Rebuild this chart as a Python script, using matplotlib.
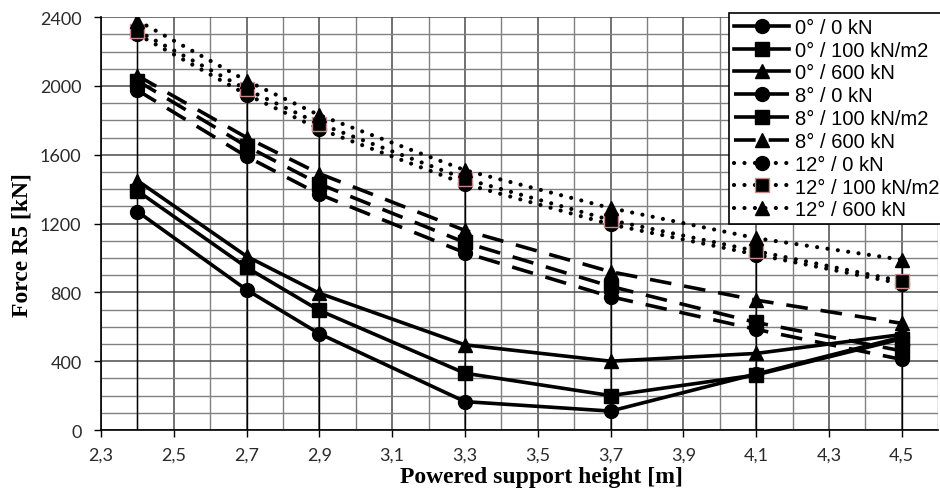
import numpy as np
import matplotlib
matplotlib.use('Agg')
import matplotlib.pyplot as plt
from matplotlib.ticker import MultipleLocator, FuncFormatter

# powered support height [m]
heights = [2.4, 2.7, 2.9, 3.3, 3.7, 4.1, 4.5]

# force R5 [kN]
f0_0 = [1270, 815, 560, 165, 110, 325, 540]
f0_100 = [1390, 945, 695, 330, 200, 320, 530]
f0_600 = [1450, 1010, 795, 495, 400, 445, 555]
f8_0 = [1975, 1590, 1370, 1030, 775, 585, 410]
f8_100 = [2030, 1650, 1430, 1090, 835, 625, 460]
f8_600 = [2060, 1700, 1490, 1160, 920, 755, 620]
f12_0 = [2300, 1950, 1750, 1430, 1195, 1020, 850]
f12_100 = [2320, 1980, 1780, 1460, 1220, 1040, 865]
f12_600 = [2380, 2030, 1830, 1510, 1290, 1115, 990]

labels = ['0° / 0 kN', '0° / 100 kN/m2', '0° / 600 kN',
          '8° / 0 kN', '8° / 100 kN/m2', '8° / 600 kN',
          '12° / 0 kN', '12° / 100 kN/m2', '12° / 600 kN']
series = [f0_0, f0_100, f0_600, f8_0, f8_100, f8_600, f12_0, f12_100, f12_600]
markers = ['o', 's', '^'] * 3
dashes = [None] * 3 + [(6, 3.6)] * 3 + [(0.01, 2.5)] * 3

fig = plt.figure(figsize=(9.4, 4.89), dpi=100)
ax = fig.add_axes([0.1074, 0.1186, 0.8906, 0.8444])

# grid
ax.xaxis.set_major_locator(MultipleLocator(0.2))
ax.xaxis.set_minor_locator(MultipleLocator(0.1))
ax.yaxis.set_major_locator(MultipleLocator(400))
ax.yaxis.set_minor_locator(MultipleLocator(100))
ax.grid(which='major', color='#4a4a4a', lw=1.1, zorder=0)
ax.grid(which='minor', color='#808080', lw=1.0, zorder=0)
ax.set_axisbelow(True)

# drop lines from the highest point of each height
tops = np.max(np.array(series), axis=0)
ax.vlines(heights, 0, tops, color='black', lw=1.0, zorder=1)

for vals, lab, mk, ds in zip(series, labels, markers, dashes):
    kw = dict(color='black', lw=2.6, marker=mk, markersize=10, label=lab,
              markerfacecolor='black', markeredgecolor='black', zorder=3)
    if lab.startswith('12° / 100'):
        kw['markeredgecolor'] = '#c98a8a'
        kw['markeredgewidth'] = 1.0
    line, = ax.plot(heights, vals, **kw)
    if ds is not None:
        line.set_dashes(ds)
        if ds[0] < 1:
            line.set_dash_capstyle('round')
            line.set_linewidth(3.0)

ax.set_xlim(2.3, 4.6)
ax.set_ylim(0, 2400)
ax.xaxis.set_major_formatter(FuncFormatter(lambda v, p: f'{v:.1f}'.replace('.', ',')))
ax.set_xticks(np.arange(2.3, 4.51, 0.2))
ax.tick_params(which='major', direction='out', length=5, width=1, labelsize=13, pad=7)
ax.tick_params(axis='y', pad=9)
ax.tick_params(which='minor', length=0)
for lbl in ax.get_xticklabels() + ax.get_yticklabels():
    lbl.set_family('Lato')
    lbl.set_color('#2a2a2a')

for s in ['top', 'right']:
    ax.spines[s].set_visible(False)
for s in ['left', 'bottom']:
    ax.spines[s].set_color('black')
    ax.spines[s].set_linewidth(1.2)

ax.set_xlabel('Powered support height [m]', family='Liberation Serif',
              fontweight='bold', fontsize=17)
ax.set_ylabel('Force R5 [kN]', family='Liberation Serif',
              fontweight='bold', fontsize=17)
ax.xaxis.set_label_coords(0.526, -0.087)
ax.yaxis.set_label_coords(-0.082, 0.45)

leg = fig.legend(loc='upper left', bbox_to_anchor=(0.7755, 0.972),
                 prop={'family': 'Liberation Sans', 'size': 14.5},
                 handlelength=2.75, handletextpad=0.3, labelspacing=0.19,
                 borderpad=0.25, borderaxespad=0, fancybox=False,
                 framealpha=1, edgecolor='black')
leg.get_frame().set_linewidth(1.2)
for h in leg.get_lines():
    h.set_markersize(10)

fig.savefig('out.png', dpi=100)
